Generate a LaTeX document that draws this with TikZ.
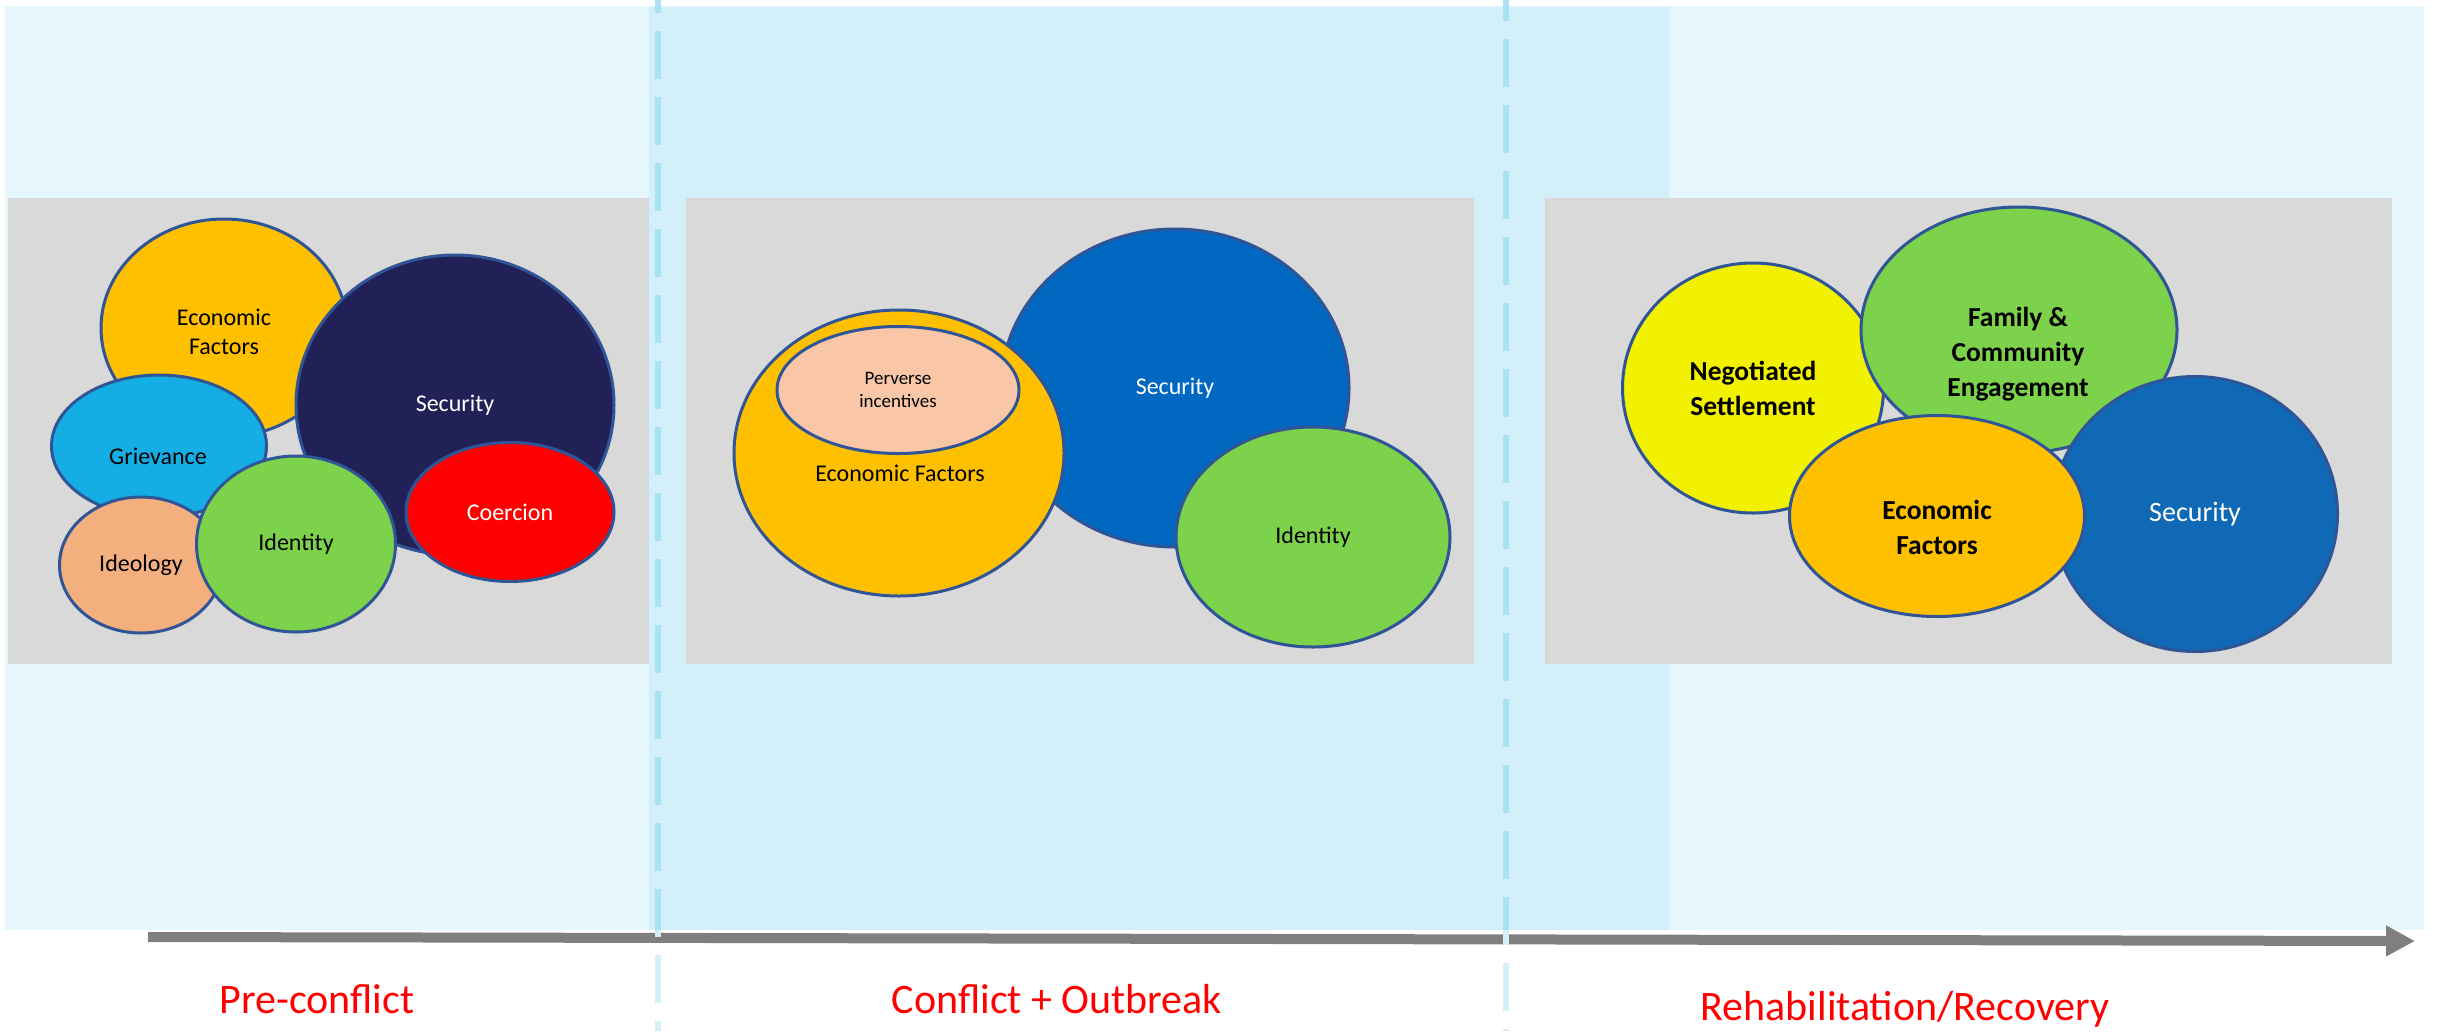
\documentclass[tikz,border=0pt]{standalone}
\usepackage{fontspec}
\setmainfont{Carlito}
\usetikzlibrary{shapes.geometric}
\usetikzlibrary{arrows.meta}
\usepackage{xcolor}

\definecolor{paneout}{HTML}{E6F6FD}
\definecolor{panemid}{HTML}{D3EFFA}
\definecolor{boxgray}{HTML}{D9D9D9}
\definecolor{rim}{HTML}{2F5597}
\definecolor{econ}{HTML}{FFC000}
\definecolor{navy}{HTML}{212057}
\definecolor{secblue}{HTML}{0068C1}
\definecolor{secblue2}{HTML}{0F69B5}
\definecolor{griev}{HTML}{15AEE4}
\definecolor{ideo}{HTML}{F4AF7E}
\definecolor{ident}{HTML}{7DD24B}
\definecolor{perv}{HTML}{F9C7A8}
\definecolor{negot}{HTML}{F2F200}
\definecolor{divline}{HTML}{A9E1F5}
\definecolor{divpale}{HTML}{D5EFFA}
\definecolor{timeline}{HTML}{7F7F7F}

\begin{document}
\begin{tikzpicture}[x=1pt,y=-1pt,
  blob/.style={ellipse,draw=rim,line width=3pt,inner sep=0pt,align=center,font=\fontsize{24}{29}\selectfont},
  bigblob/.style={blob,font=\bfseries\fontsize{27.5}{35}\selectfont},
  blobtext/.style={align=center,inner sep=0pt,font=\fontsize{24}{29}\selectfont},
  phase/.style={text=red,anchor=base,font=\fontsize{42}{50}\selectfont},
  divider/.style={line width=6pt,dash pattern=on 48pt off 18pt}]
\useasboundingbox (0,0) rectangle (2440,1031);

\fill[paneout] (5,6) rectangle (2424,930);
\fill[panemid] (649,7) rectangle (1669,930);
\fill[boxgray] (8,198) rectangle (649,664);
\fill[boxgray] (686,198) rectangle (1474,664);
\fill[boxgray] (1545,198) rectangle (2392,664);

% pre-conflict
\node [blob,fill=econ,minimum width=246pt,minimum height=218pt] (econ1) at (224,328) {};
\node [blobtext] (econ1-t) at (224,332) {Economic\\Factors};
\node [blob,fill=navy,text=white,minimum width=318pt,minimum height=300pt] (sec1) at (455,405) {Security};
\node [blob,fill=griev,minimum width=215pt,minimum height=142pt] (griev1) at (159,446) {};
\node [blobtext] (griev1-t) at (158,456) {Grievance};
\node [blob,fill=ideo,minimum width=163pt,minimum height=136pt] (ideo1) at (141,565) {Ideology};
\node [blob,fill=ident,minimum width=199pt,minimum height=176pt] (ident1) at (296,544) {Identity};
\node [blob,fill=red,text=white,minimum width=208pt,minimum height=139pt] (coer1) at (510,512) {Coercion};

% conflict + outbreak
\node [blob,fill=secblue,text=white,minimum width=348pt,minimum height=318pt] (sec2) at (1175,388) {Security};
\node [blob,fill=econ,minimum width=330pt,minimum height=286pt] (econ2) at (899,453) {};
\node [blobtext] (econ2-t) at (900,473) {Economic Factors};
\node [blob,fill=perv,minimum width=242pt,minimum height=127pt,font=\fontsize{19}{23}\selectfont] (perv2) at (898,390) {Perverse\\incentives};
\node [blob,fill=ident,minimum width=274pt,minimum height=220pt] (ident2) at (1313,537) {Identity};

% rehabilitation
\node [bigblob,fill=negot,minimum width=261pt,minimum height=250pt] (negot3) at (1753,388) {Negotiated\\Settlement};
\node [bigblob,fill=ident,minimum width=316pt,minimum height=246pt] (fam3) at (2019,330) {};
\node [blobtext,font=\bfseries\fontsize{27.5}{35}\selectfont] (fam3-t) at (2018,354) {Family \&\\Community\\Engagement};
\node [blob,fill=secblue2,text=white,minimum width=285pt,minimum height=275pt,font=\fontsize{28}{35}\selectfont] (sec3) at (2195,514) {Security};
\node [bigblob,fill=econ,minimum width=295pt,minimum height=201pt] (econ3) at (1937,516) {};
\node [blobtext,font=\bfseries\fontsize{27.5}{35}\selectfont] (econ3-t) at (1937,527) {Economic\\Factors};

\coordinate (tl-start) at (148,937);
\coordinate (tl-end) at (2415,941);
\draw [timeline,line width=10pt,-{Triangle[length=29pt,width=29pt]}] (tl-start) -- (tl-end);

\draw [divider,divpale] (658,-35) -- (658,1031);
\draw [divider,divline] (658,-35) -- (658,930);
\draw [divider,divpale] (1506,-27) -- (1506,1031);
\draw [divider,divline] (1506,-27) -- (1506,930);

\node [phase] (pre) at (317,1013) {Pre-conflict};
\node [phase] (outbreak) at (1057,1013) {Conflict + Outbreak};
\node [phase] (recovery) at (1905,1020) {Rehabilitation/Recovery};
\end{tikzpicture}
\end{document}
